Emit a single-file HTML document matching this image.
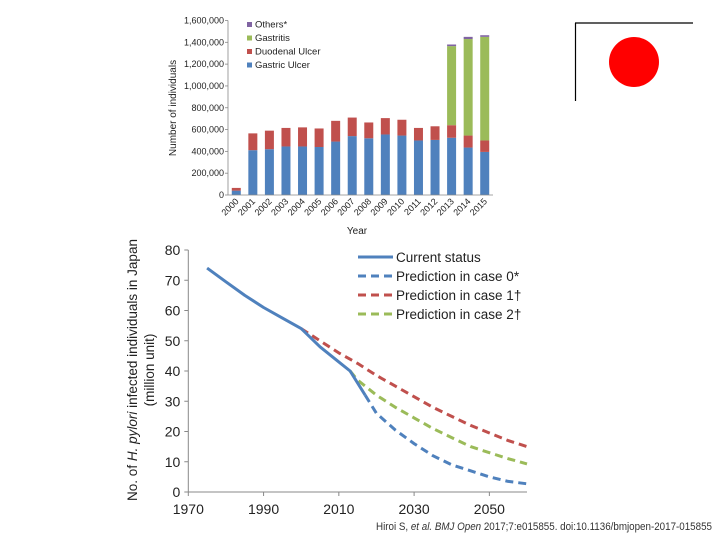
<!DOCTYPE html>
<html><head><meta charset="utf-8"><style>
html,body{margin:0;padding:0;background:#fff}
svg{display:block;font-family:"Liberation Sans",Arial,sans-serif}
</style></head><body>
<svg id="svg" width="720" height="540" viewBox="0 0 720 540">
<g id="flag">
<line x1="575" y1="23" x2="693" y2="23" stroke="#000" stroke-width="1.2"/>
<line x1="575.5" y1="23" x2="575.5" y2="101" stroke="#000" stroke-width="1.2"/>
<circle cx="634" cy="62" r="25" fill="#ff0000"/>
</g>
<g id="bar"></g>
<g id="line"></g>
<text x="376" y="530" font-size="11" fill="#333" textLength="336" lengthAdjust="spacingAndGlyphs">Hiroi S, <tspan font-style="italic">et al. BMJ Open</tspan> 2017;7:e015855. doi:10.1136/bmjopen-2017-015855</text>
</svg>
<script>
const years=['2000','2001','2002','2003','2004','2005','2006','2007','2008','2009','2010','2011','2012','2013','2014','2015'];
const gastricUlcer=[40000,411000,420000,445000,445000,440000,490000,540000,520000,555000,545000,500000,505000,525000,435000,395000];
const duodenalUlcer=[25000,154000,170000,170000,175000,170000,190000,170000,145000,150000,145000,115000,125000,115000,110000,105000];
const gastritis=[0,0,0,0,0,0,0,0,0,0,0,0,0,725000,885000,950000];
const others=[0,0,0,0,0,0,0,0,0,0,0,0,0,15000,20000,15000];
const barTicks=[0,200000,400000,600000,800000,1000000,1200000,1400000,1600000];

const lineYearsCurrent=[1975,1980,1985,1990,1995,2000,2005,2010,2013,2017];
const currentStatus=[74,69.5,65,61,57.5,54,48,43,40,32];
const yearsCase0=[2017,2020,2025,2030,2035,2040,2045,2050,2055,2060];
const case0=[32,26,20.5,16,12,9,7,5,3.5,2.7];
const yearsCase1=[2000,2005,2010,2015,2020,2025,2030,2035,2040,2045,2050,2055,2060];
const case1=[54,50,46,42.5,38.5,35,31.5,28,25,22,19.5,17,15];
const yearsCase2=[2013,2015,2020,2025,2030,2035,2040,2045,2050,2055,2060];
const case2=[40,37,32,28,24.5,21,18,15,13,11,9.3];
const xTicks=[1970,1990,2010,2030,2050];
const yTicks=[0,10,20,30,40,50,60,70,80];

const NS='http://www.w3.org/2000/svg';
function mk(tag,attrs,parent,txt){const e=document.createElementNS(NS,tag);for(const k in attrs)e.setAttribute(k,attrs[k]);if(txt!=null)e.textContent=txt;parent.appendChild(e);return e;}
const fmt=v=>v.toLocaleString('en-US');

// ---- bar chart
const bg=document.getElementById('bar');
const bx0=228,bx1=493,by0=195,by1=20.5,bmax=1600000;
const byS=v=>by0-(v/bmax)*(by0-by1);
const slot=(bx1-bx0)/years.length;
const bxS=i=>bx0+slot*(i+0.5);
barTicks.forEach(t=>{
  const tl=mk('text',{x:bx0-4,y:byS(t)+3,'font-size':9,'text-anchor':'end',fill:'#222'},bg,fmt(t));
  
  
  mk('line',{x1:bx0-3,x2:bx0,y1:byS(t),y2:byS(t),stroke:'#888','stroke-width':0.8},bg);
});
const series=[[gastricUlcer,'#4f81bd','gastric-ulcer'],[duodenalUlcer,'#c0504d','duodenal-ulcer'],[gastritis,'#9bbb59','gastritis'],[others,'#8064a2','others']];
years.forEach((y,i)=>{
  let acc=0;
  series.forEach(([arr,col,nm])=>{
    const v=arr[i]; if(!v)return;
    const r=mk('rect',{x:bxS(i)-4.5,width:9,y:byS(acc+v),height:byS(acc)-byS(acc+v),fill:col},bg);
    
    
    acc+=v;
  });
  const lx=bxS(i)+3,ly=by0+7;
  const t=mk('text',{x:lx,y:ly,'font-size':9,'text-anchor':'end',fill:'#222',transform:`rotate(-45 ${lx} ${ly})`},bg,y);
  
  
});
mk('line',{x1:bx0,x2:bx0,y1:by1,y2:by0,stroke:'#888','stroke-width':0.8},bg);
mk('line',{x1:bx0,x2:bx1,y1:by0,y2:by0,stroke:'#888','stroke-width':0.8},bg);
const xt=mk('text',{x:357,y:234,'font-size':10,'text-anchor':'middle',fill:'#222'},bg,'Year');


const yt=mk('text',{x:176,y:108,'font-size':10,'text-anchor':'middle',fill:'#222',transform:'rotate(-90 176 108)'},bg,'Number of individuals');


[['Others*','#8064a2'],['Gastritis','#9bbb59'],['Duodenal Ulcer','#c0504d'],['Gastric Ulcer','#4f81bd']].forEach(([n,c],k)=>{
  const y=27+k*13.5;
  const g=mk('g',{},bg);
  
  
  mk('rect',{x:247,y:y-5,width:5,height:5,fill:c},g);
  mk('text',{x:255,y:y+0.5,'font-size':9.5,fill:'#222'},g,n);
});

// ---- line chart
const lg=document.getElementById('line');
const lx0=188.3,lx1=527,ly0=492,ly1=250;
const lxS=v=>lx0+(v-1970)/90*(lx1-lx0);
const lyS=v=>ly0-(v/80)*(ly0-ly1);
mk('line',{x1:lx0,x2:lx0,y1:ly1,y2:ly0,stroke:'#888','stroke-width':1},lg);
mk('line',{x1:lx0,x2:lx1,y1:ly0,y2:ly0,stroke:'#888','stroke-width':1},lg);
yTicks.forEach(t=>{
  mk('line',{x1:lx0-4,x2:lx0,y1:lyS(t),y2:lyS(t),stroke:'#888'},lg);
  const e=mk('text',{x:lx0-8,y:lyS(t)+5,'font-size':14,'text-anchor':'end',fill:'#222'},lg,t);
  
  
});
xTicks.forEach(t=>{
  mk('line',{x1:lxS(t),x2:lxS(t),y1:ly0,y2:ly0+4,stroke:'#888'},lg);
  const e=mk('text',{x:lxS(t),y:ly0+22,'font-size':14,'text-anchor':'middle',fill:'#222'},lg,t);
  
  
});
const pts=(xs,ys)=>xs.map((x,i)=>lxS(x).toFixed(1)+','+lyS(ys[i]).toFixed(1)).join(' ');
const lines=[[yearsCase1,case1,'#c0504d','8 5','case1-line'],[yearsCase2,case2,'#9bbb59','8 5','case2-line'],[yearsCase0,case0,'#4f81bd','8 5','case0-line'],[lineYearsCurrent,currentStatus,'#4f81bd',null,'current-status-line']];
lines.forEach(([xs,ys,c,d,nm])=>{
  const a={points:pts(xs,ys),fill:'none',stroke:c,'stroke-width':3,'stroke-linejoin':'round'};
  if(d)a['stroke-dasharray']=d;
  const p=mk('polyline',a,lg);
  
  
});
const yt2=mk('text',{'font-size':13.5,'text-anchor':'middle',fill:'#222',transform:'translate(137 370) rotate(-90)'},lg);


yt2.innerHTML='<tspan x="0" y="0">No. of <tspan font-style="italic">H. pylori</tspan> infected individuals in Japan</tspan><tspan x="0" y="17">(million unit)</tspan>';
[['Current status','#4f81bd',null],['Prediction in case 0*','#4f81bd','8 5'],['Prediction in case 1†','#c0504d','8 5'],['Prediction in case 2†','#9bbb59','8 5']].forEach(([n,c,d],k)=>{
  const y=257+k*19;
  const g=mk('g',{},lg);
  
  
  const a={x1:358,x2:393,y1:y,y2:y,stroke:c,'stroke-width':3};
  if(d)a['stroke-dasharray']=d;
  mk('line',a,g);
  mk('text',{x:396,y:y+5,'font-size':13.5,fill:'#222'},g,n);
});
</script>
</body></html>
